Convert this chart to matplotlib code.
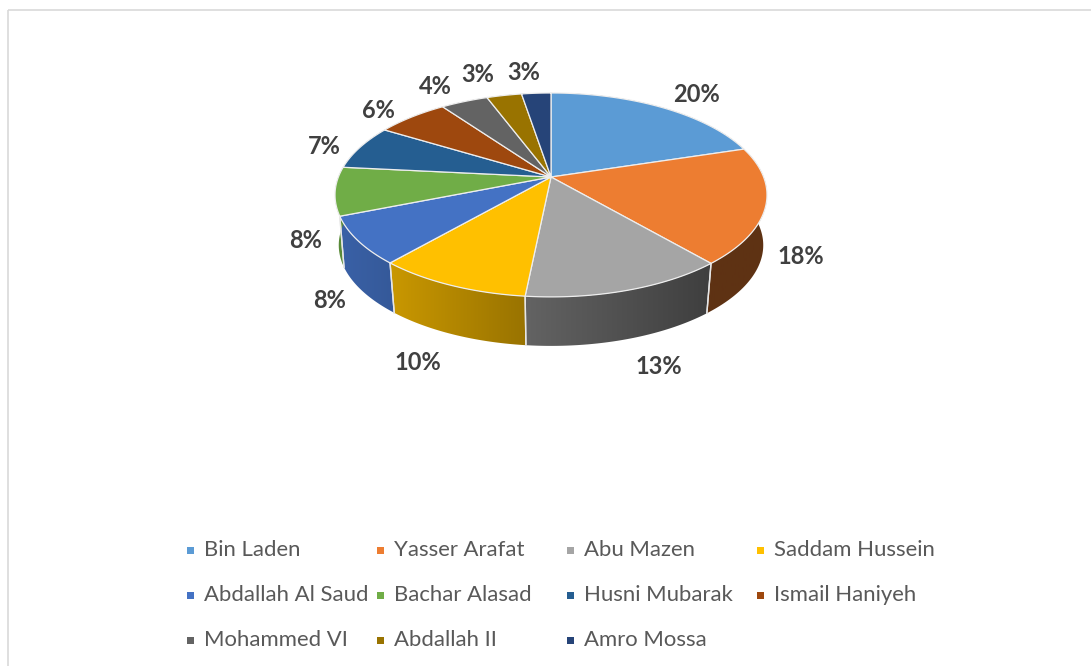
import matplotlib
matplotlib.use('Agg')
import matplotlib.pyplot as plt
import numpy as np
from matplotlib.patches import Polygon, Rectangle
from matplotlib.colors import to_rgb

names = ['Bin Laden', 'Yasser Arafat', 'Abu Mazen', 'Saddam Hussein',
         'Abdallah Al Saud', 'Bachar Alasad', 'Husni Mubarak', 'Ismail Haniyeh',
         'Mohammed VI', 'Abdallah II', 'Amro Mossa']
values = [20.2, 18.49, 12.91, 9.8, 7.55, 7.65, 7.1, 6.4, 4.2, 3.1, 2.6]
colors = ['#5b9bd5', '#ed7d31', '#a5a5a5', '#ffc000', '#4472c4', '#70ad47',
          '#255e91', '#9e480e', '#636363', '#997300', '#264478']
# side shading, right and left end of each slice (multiplies the top colour)
side_right = [0.4, 0.4, 0.38, 0.6, 0.78, 0.8, 0.6, 0.6, 0.6, 0.6, 0.6]
side_left = [0.4, 0.4, 0.6, 0.79, 0.85, 0.8, 0.6, 0.6, 0.6, 0.6, 0.6]

label_x = [697, 801, 659, 418, 330, 306, 324, 378, 435, 478, 524]
label_y = [95, 257, 367, 362, 300, 240, 146, 110, 86, 75, 73]
legend_x = [187, 377, 567, 757]
legend_y = [550, 595, 640]

# pie geometry in pixels, tilt gives the perspective look
cx, cy = 551, 177
A, B, k = 212.6, 98.8, 0.176
shrink, depth = 0.975, 52


def top_point(a):
    u, v = np.sin(a), -np.cos(a)
    d = 1 - k * v
    return cx + A * u / d, cy + B * v / d


def bottom_point(a):
    u, v = np.sin(a), -np.cos(a)
    _, y = top_point(a)
    # lower rim narrows less at the sides than at the front
    return cx + 0.985 * A * u / (1 - 0.163 * v), cy + shrink * (y - cy) + depth


fig = plt.figure(figsize=(10.91, 6.66), dpi=100)
ax = fig.add_axes([0, 0, 1, 1])
ax.axis('off')
plt.rcParams['font.family'] = ['Lato', 'DejaVu Sans']

ax.add_patch(Rectangle((7.5, 9.5), 1090, 700, fill=False, edgecolor='#d9d9d9', linewidth=1.2))

bounds = np.radians(np.concatenate(([0], np.cumsum(values))) * 3.6)

# side walls first, the top faces cover whatever is behind
for i in range(len(values)):
    angles = np.linspace(bounds[i], bounds[i + 1], 60)
    top = [top_point(a) for a in angles]
    bottom = [bottom_point(a) for a in angles[::-1]]
    wall = Polygon(top + bottom, facecolor='none', edgecolor='none', zorder=2)
    ax.add_patch(wall)
    xs = [p[0] for p in top + bottom]
    grad = np.linspace(side_left[i], side_right[i], 128)[None, :, None] * np.array(to_rgb(colors[i]))
    im = ax.imshow(grad, extent=(min(xs), max(xs), 700, 0), aspect='auto', zorder=2)
    im.set_clip_path(wall)
    for a in (bounds[i], bounds[i + 1]):
        if np.cos(a) < 0:
            x0, y0 = top_point(a)
            x1, y1 = bottom_point(a)
            ax.plot([x0, x1], [y0, y1], color='#e6e6e6', linewidth=1.0, zorder=3)

for i in range(len(values)):
    angles = np.linspace(bounds[i], bounds[i + 1], 80)
    pts = [(cx, cy)] + [top_point(a) for a in angles]
    ax.add_patch(Polygon(pts, facecolor=colors[i], edgecolor='#eeeeee', linewidth=0.9,
                         joinstyle='round', zorder=4))
    ax.text(label_x[i], label_y[i], '%.0f%%' % values[i], fontsize=17, fontweight='bold',
            color='#404040', ha='center', va='center', zorder=5)

for i in range(len(names)):
    row, col = i // 4, i % 4
    ax.add_patch(Rectangle((legend_x[col], legend_y[row] - 3.5), 7, 7, facecolor=colors[i],
                           edgecolor='none', zorder=5))
    ax.text(legend_x[col] + 17, legend_y[row], names[i], fontsize=15.9, color='#595959',
            ha='left', va='center', zorder=5)

ax.set_xlim(0, 1091)
ax.set_ylim(666, 0)
fig.savefig('out.png', dpi=100)
